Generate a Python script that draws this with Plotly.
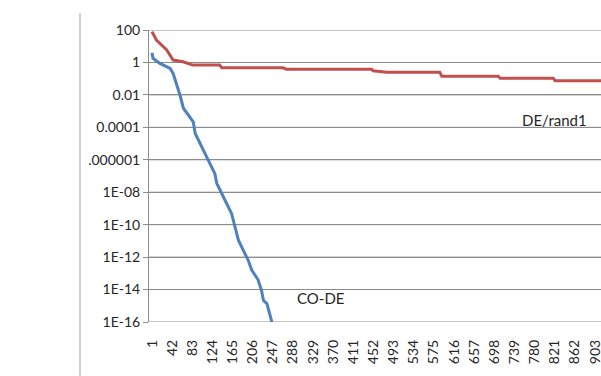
import plotly.graph_objects as go

# ---- data ----
de_rand1_x = [1, 10, 31, 44, 64, 84, 139, 143, 268, 275, 448, 451, 479, 587, 591, 706, 710, 818, 822, 920]
de_rand1_y = [80, 24, 5.9, 1.4, 1.1, 0.69, 0.69, 0.47, 0.47, 0.38, 0.38, 0.31, 0.25, 0.25, 0.14, 0.14,
              0.105, 0.105, 0.074, 0.074]

co_de_x = [1, 3, 17, 31, 38, 44, 51, 58, 65, 75, 85, 89, 99, 109, 119, 129, 133, 143, 153, 163,
           170, 177, 187, 197, 204, 217, 224, 228, 235, 245]
co_de_y = [4.0, 1.8, 0.87, 0.54, 0.43, 0.21, 0.051, 0.0098, 0.0015, 5.6e-4, 2.2e-4, 4.2e-5, 1e-5,
           2.5e-6, 5.9e-7, 1.4e-7, 3.5e-8, 8.3e-9, 2e-9, 4.9e-10, 7.2e-11, 1.1e-11, 2.6e-12,
           6.3e-13, 1.6e-13, 4e-14, 8.9e-15, 2.1e-15, 1.35e-15, 1e-16]

x_tick_vals = [1, 42, 83, 124, 165, 206, 247, 288, 329, 370, 411, 452, 493, 534, 575, 616, 657,
               698, 739, 780, 821, 862, 903]
y_tick_vals = [1e2, 1, 1e-2, 1e-4, 1e-6, 1e-8, 1e-10, 1e-12, 1e-14, 1e-16]
y_tick_text = ["100", "1", "0.01", "0.0001", ".000001", "1E-08", "1E-10", "1E-12", "1E-14", "1E-16"]

RED = "#C0504D"
BLUE = "#4F81BD"
GRID = "#8C8C8C"
FONT = "Lato"

fig = go.Figure()
fig.add_trace(go.Scatter(x=de_rand1_x, y=de_rand1_y, mode="lines", line=dict(color=RED, width=3),
                         name="DE/rand1", showlegend=False))
fig.add_trace(go.Scatter(x=co_de_x, y=co_de_y, mode="lines", line=dict(color=BLUE, width=3),
                         name="CO-DE", showlegend=False))

# horizontal gridlines at the y tick values (drawn below the traces)
gridlines = [dict(type="line", xref="paper", yref="y", x0=0, x1=1, y0=v, y1=v,
                  line=dict(color=GRID, width=1), layer="below") for v in y_tick_vals]

fig.update_layout(
    width=601, height=376,
    margin=dict(l=149, r=0, t=30, b=54, pad=0, autoexpand=False),
    plot_bgcolor="rgba(0,0,0,0)", paper_bgcolor="white",
    font=dict(family=FONT, size=14, color="#262626"),
    xaxis=dict(
        range=[-5.1, 915.3], tickmode="array", tickvals=x_tick_vals,
        ticktext=[str(v) for v in x_tick_vals], tickangle=-90,
        showgrid=False, zeroline=False, showline=False, ticks="",
        ticklabelstandoff=14, automargin=False, ticklabeloverflow="allow",
    ),
    yaxis=dict(
        type="log", range=[-16, 2], tickmode="array", tickvals=y_tick_vals, ticktext=y_tick_text,
        showgrid=True, gridcolor=GRID, gridwidth=1, zeroline=False,
        showline=True, linecolor=GRID, linewidth=1,
        ticks="outside", ticklen=5, tickcolor=GRID, ticksuffix="  ", automargin=False,
    ),
    annotations=[
        dict(text="DE/rand1", x=820, y=-3.55, xref="x", yref="y", showarrow=False,
             font=dict(family=FONT, size=15, color="#262626")),
        dict(text="CO-DE", x=345, y=-14.55, xref="x", yref="y", showarrow=False,
             font=dict(family=FONT, size=15, color="#262626")),
    ],
    shapes=gridlines + [
        dict(type="line", xref="paper", yref="paper", x0=-0.1527, x1=-0.1527, y0=1.058, y1=-0.2,
             line=dict(color="#D0D0D0", width=2)),
    ],
)

fig.write_html("out.html", config={"displayModeBar": False},
               post_script="document.body.style.margin='0';")
